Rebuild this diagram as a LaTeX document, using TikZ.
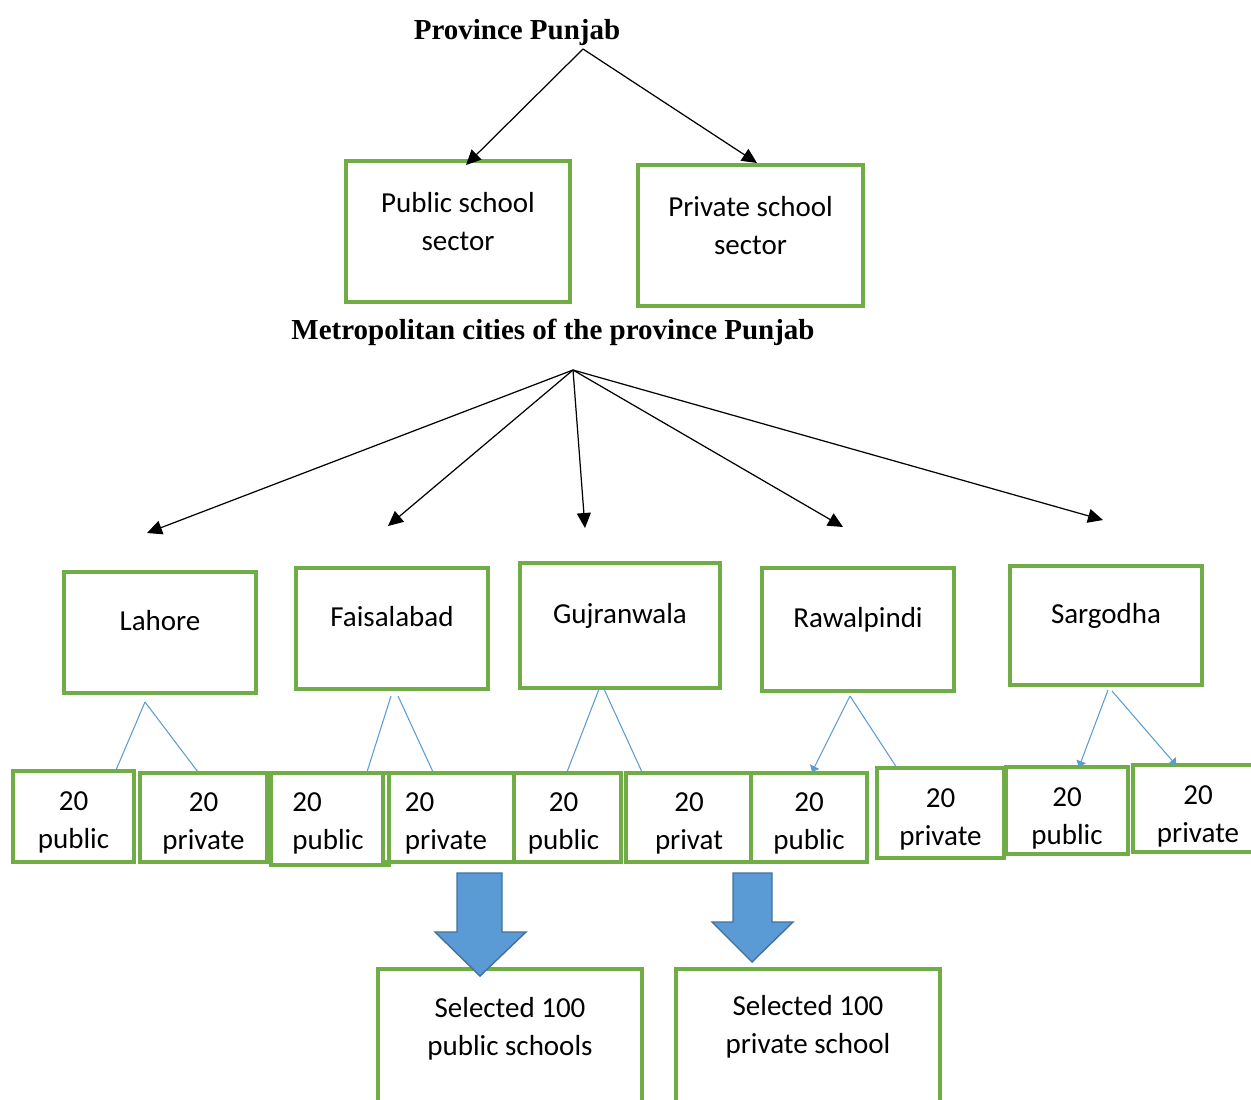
\documentclass[tikz,border=0pt]{standalone}
\usepackage{fontspec}
\newfontfamily\boxfont{Carlito}
\newfontfamily\titlefont{Liberation Serif}
\usetikzlibrary{arrows.meta,calc}
\definecolor{boxgreen}{RGB}{112,173,71}
\definecolor{linkblue}{RGB}{91,155,213}
\definecolor{arrowedge}{RGB}{65,113,156}
\tikzset{
    % Green frames, size given in pixels of the layout
    frame/.style 2 args={
        draw=boxgreen,
        line width=1.9pt,
        inner sep=0pt,
        minimum width=#1*0.02cm,
        minimum height=#2*0.02cm,
    },
    % Text set inside the frames
    boxtext/.style={
        font=\boxfont\fontsize{16.5}{21.6}\selectfont,
        align=center,
        inner sep=0pt,
    },
    % Headings
    title/.style={
        font=\titlefont\bfseries\fontsize{16.5}{20}\selectfont,
        inner sep=0pt,
    },
    % Black arrows of the hierarchy
    feed/.style={
        line width=0.7pt,
        -{Triangle[length=0.3cm,width=0.28cm]},
    },
    % Thin blue links to the samples
    branch/.style={
        draw=linkblue,
        line width=0.6pt,
    },
    branchtip/.style={
        branch,
        -{Triangle[length=0.12cm,width=0.2cm]},
    },
    % Big block arrows
    blockarrow/.style={
        fill=linkblue,
        draw=arrowedge,
        line width=0.8pt,
    },
}

\begin{document}
\begin{tikzpicture}[x=0.02cm, y=-0.02cm]
    \useasboundingbox (0,0) rectangle (1251,1099);
    \clip (0,0) rectangle (1251,1099);

    % Province and sectors
    \node[title] (prov) at (517,32.5) {Province Punjab};
    \coordinate (provfoot) at (583,49);

    \node[frame={224}{141}] (pub) at (458,231.5) {};
    \node[boxtext] (pubtxt) at (458,221.5) {Public school\\sector};
    \node[frame={225}{141}] (pri) at (750.5,235.5) {};
    \node[boxtext] (pritxt) at (750.5,225.5) {Private school\\sector};

    \coordinate (pubtip) at (466,165);
    \coordinate (pritip) at (757,163);
    \draw[feed] (provfoot) -- (pubtip);
    \draw[feed] (provfoot) -- (pritip);

    % Cities
    \node[title] (metro) at (553,332) {Metropolitan cities of the province Punjab};
    \coordinate (metrofoot) at (573,370);

    \node[frame={192}{121}] (lah) at (160,632.5) {};
    \node[boxtext] (lahtxt) at (160,621) {Lahore};
    \node[frame={192}{121}] (fsd) at (392,628.5) {};
    \node[boxtext] (fsdtxt) at (392,617) {Faisalabad};
    \node[frame={200}{125}] (guj) at (620,625.5) {};
    \node[boxtext] (gujtxt) at (620,616) {Gujranwala};
    \node[frame={192}{123}] (rwp) at (858,629.5) {};
    \node[boxtext] (rwptxt) at (858,619.5) {Rawalpindi};
    \node[frame={192}{119}] (sgd) at (1106,625.5) {};
    \node[boxtext] (sgdtxt) at (1106,615.5) {Sargodha};

    \coordinate (lahtip) at (147,533);
    \coordinate (fsdtip) at (388,526);
    \coordinate (gujtip) at (585,528);
    \coordinate (rwptip) at (843,527);
    \coordinate (sgdtip) at (1103,520);
    \draw[feed] (metrofoot) -- (lahtip);
    \draw[feed] (metrofoot) -- (fsdtip);
    \draw[feed] (metrofoot) -- (gujtip);
    \draw[feed] (metrofoot) -- (rwptip);
    \draw[feed] (metrofoot) -- (sgdtip);

    % Samples per city
    \node[frame={121}{91}] (s1) at (73.5,816.5) {};
    \node[boxtext] (s1txt) at (73.5,822.5) {20\\public};
    \node[frame={127}{89}] (s2) at (203.5,817.5) {};
    \node[boxtext] (s2txt) at (203.5,823.5) {20\\private};
    \node[frame={118}{92}] (s3) at (330,819) {};
    \node[boxtext, align=left] (s3txt) at (328,823.5) {20\\public};
    \node[frame={131}{89}] (s4) at (448.5,817.5) {};
    \node[boxtext, align=left] (s4txt) at (446,823.5) {20\\private};
    \node[frame={107}{89}] (s5) at (567.5,817.5) {};
    \node[boxtext] (s5txt) at (563.5,823.5) {20\\public};
    \node[frame={125}{89}] (s6) at (688.5,817.5) {};
    \node[boxtext] (s6txt) at (689,823.5) {20\\privat};
    \node[frame={116}{89}] (s7) at (809,817.5) {};
    \node[boxtext] (s7txt) at (809,823.5) {20\\public};
    \node[frame={127}{90}] (s8) at (940.5,813) {};
    \node[boxtext] (s8txt) at (940.5,819) {20\\private};
    \node[frame={122}{87}] (s9) at (1067,810.5) {};
    \node[boxtext] (s9txt) at (1067,818) {20\\public};
    \node[frame={132}{87}] (s10) at (1199,808.5) {};
    \node[boxtext] (s10txt) at (1198,816.5) {20\\private};

    \coordinate (lahfoot) at (145,702);
    \coordinate (fsdfootA) at (391,696);
    \coordinate (fsdfootB) at (398,696);
    \coordinate (gujfootA) at (599,689);
    \coordinate (gujfootB) at (604,689);
    \coordinate (rwpfoot) at (850,696);
    \coordinate (sgdfootA) at (1108,690);
    \coordinate (sgdfootB) at (1112,691);
    \coordinate (s1top) at (116,770);
    \coordinate (s2top) at (198,772);
    \coordinate (s3top) at (367,772);
    \coordinate (s4top) at (433,772);
    \coordinate (s5top) at (567,772);
    \coordinate (s6top) at (642,772);
    \coordinate (s7top) at (812,772);
    \coordinate (s8top) at (897,768);
    \coordinate (s9top) at (1079,767);
    \coordinate (s10top) at (1176,765);

    \draw[branch] (lahfoot) -- (s1top);
    \draw[branch] (lahfoot) -- (s2top);
    \draw[branch] (fsdfootA) -- (s3top);
    \draw[branch] (fsdfootB) -- (s4top);
    \draw[branch] (gujfootA) -- (s5top);
    \draw[branch] (gujfootB) -- (s6top);
    \draw[branchtip] (rwpfoot) -- (s7top);
    \draw[branch] (rwpfoot) -- (s8top);
    \draw[branchtip] (sgdfootA) -- (s9top);
    \draw[branchtip] (sgdfootB) -- (s10top);

    % Selection
    \node[frame={264}{141}] (sel1) at (510,1039.5) {};
    \node[boxtext] (sel1txt) at (510,1028.5) {Selected 100\\public schools};
    \node[frame={264}{141}] (sel2) at (808,1039.5) {};
    \node[boxtext] (sel2txt) at (808,1026.5) {Selected 100\\private school};

    \draw[blockarrow] (457,873) -- (502,873) -- (502,932) -- (526,932)
        -- (480,976) -- (435,932) -- (457,932) -- cycle;
    \draw[blockarrow] (733,873) -- (772,873) -- (772,922) -- (793,922)
        -- (752,962) -- (712,922) -- (733,922) -- cycle;
\end{tikzpicture}
\end{document}
